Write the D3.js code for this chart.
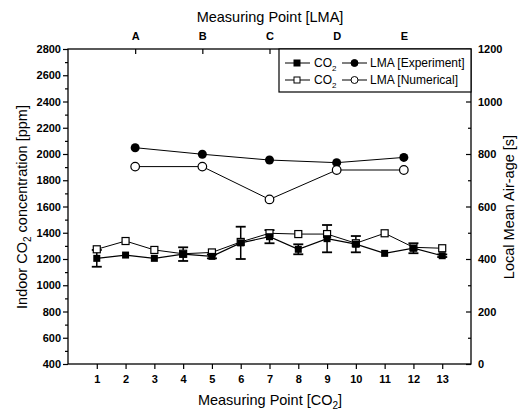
<!DOCTYPE html>
<html><head><meta charset="utf-8">
<script src="https://cdn.jsdelivr.net/npm/d3@7"></script>
<style>body{margin:0;background:#fff}svg{display:block}text{font-family:"Liberation Sans",Arial,sans-serif;fill:#000}</style>
</head><body>
<svg id="c" width="525" height="415"></svg>
<script>
// ---- data ----
const co2Points = [1,2,3,4,5,6,7,8,9,10,11,12,13];
const co2Exp    = [1205,1230,1205,1237,1220,1323,1370,1274,1355,1313,1243,1282,1225];
const co2ExpErr = [64,0,0,52,15,123,50,38,104,62,0,38,10];
const co2Num    = [1274,1337,1269,1240,1250,1330,1396,1390,1390,1320,1396,1289,1282];
const lmaPoints = ["A","B","C","D","E"];
const lmaExp    = [824,799,777,767,787];
const lmaNum    = [752,752,627,739,739];
const leftTicks  = [400,600,800,1000,1200,1400,1600,1800,2000,2200,2400,2600,2800];
const rightTicks = [0,200,400,600,800,1000,1200];

// ---- layout ----
const L=68,R=471,T=49,B=364;
const svg=d3.select("#c");
const x=d3.scaleLinear().domain([0,14]).range([L,R]);
const xTop=d3.scaleLinear().domain([0,6]).range([L,R]);
const yL=d3.scaleLinear().domain([400,2800]).range([B,T]);
const yR=d3.scaleLinear().domain([0,1200]).range([B,T]);

// frame
svg.append("rect").attr("x",L).attr("y",T).attr("width",R-L).attr("height",B-T)
  .attr("fill","none").attr("stroke","#000").attr("stroke-width",1.3);

// left axis
const gl=svg.append("g").attr("transform",`translate(${L},0)`);
gl.call(d3.axisLeft(yL).tickValues(d3.range(500,2800,200)).tickSize(3).tickFormat(""));
gl.call(g=>g.select(".domain").remove());
const gl2=svg.append("g").attr("transform",`translate(${L},0)`);
gl2.call(d3.axisLeft(yL).tickValues(leftTicks).tickSize(5).tickPadding(2).tickFormat(d3.format("d")));
gl2.select(".domain").remove();
svg.selectAll("g").selectAll(".tick line").attr("stroke-width",1.2);
gl2.selectAll("text").attr("font-size",11).attr("font-weight","bold");

// right axis (ticks inward)
const gr=svg.append("g").attr("transform",`translate(${R},0)`);
gr.call(d3.axisLeft(yR).tickValues(d3.range(100,1200,200)).tickSize(3).tickFormat(""));
gr.select(".domain").remove();
const gr2=svg.append("g").attr("transform",`translate(${R},0)`);
gr2.call(d3.axisLeft(yR).tickValues(rightTicks).tickSize(5).tickFormat(""));
gr2.select(".domain").remove();
gr2.selectAll(".tick").append("text").attr("x",7).attr("dy","0.32em")
  .attr("text-anchor","start").attr("font-size",11).attr("font-weight","bold").text(d=>d);

// bottom axis
const gb=svg.append("g").attr("transform",`translate(0,${B})`);
gb.call(d3.axisBottom(x).tickValues(co2Points).tickSize(5).tickPadding(6).tickFormat(d3.format("d")));
gb.select(".domain").remove();
gb.selectAll("text").attr("font-size",11).attr("font-weight","bold");

// top axis (ticks inward)
const gt=svg.append("g").attr("transform",`translate(0,${T})`);
gt.call(d3.axisBottom(xTop).tickValues([1,2,3,4,5]).tickSize(5).tickFormat(""));
gt.select(".domain").remove();
gt.selectAll(".tick").append("text").attr("y",-9).attr("text-anchor","middle")
  .attr("font-size",11).attr("font-weight","bold").text((d,i)=>lmaPoints[i]);
svg.selectAll(".tick line").attr("stroke","#000").attr("stroke-width",1.2);

// titles
svg.append("text").attr("x",270).attr("y",22).attr("text-anchor","middle").attr("font-size",14.5).text("Measuring Point [LMA]");
const bt=svg.append("text").attr("x",270).attr("y",405).attr("text-anchor","middle").attr("font-size",14.5);
bt.append("tspan").text("Measuring Point [CO");
bt.append("tspan").attr("font-size",10).attr("dy",4).text("2");
bt.append("tspan").attr("dy",-4).text("]");
const lt=svg.append("text").attr("transform","translate(27,207) rotate(-90)").attr("text-anchor","middle").attr("font-size",14.5);
lt.append("tspan").text("Indoor CO");
lt.append("tspan").attr("font-size",10).attr("dy",4).text("2");
lt.append("tspan").attr("dy",-4).text(" concentration [ppm]");
svg.append("text").attr("transform","translate(514,207) rotate(-90)").attr("text-anchor","middle").attr("font-size",14.5).text("Local Mean Air-age [s]");

// ---- series ----
const line=(xs,ys,yscale,xscale)=>d3.line().x((d,i)=>xscale(xs[i])).y((d,i)=>yscale(ys[i]))(ys);
const lmaX=[1,2,3,4,5];
const pl=svg.append("g");
pl.append("path").attr("d",line(lmaX,lmaExp,yR,xTop)).attr("fill","none").attr("stroke","#000").attr("stroke-width",1);
pl.append("path").attr("d",line(lmaX,lmaNum,yR,xTop)).attr("fill","none").attr("stroke","#000").attr("stroke-width",1);
pl.append("path").attr("d",line(co2Points,co2Num,yL,x)).attr("fill","none").attr("stroke","#000").attr("stroke-width",1);
pl.append("path").attr("d",line(co2Points,co2Exp,yL,x)).attr("fill","none").attr("stroke","#000").attr("stroke-width",1.2);

// error bars
co2Points.forEach((p,i)=>{
  const e=co2ExpErr[i]; if(!e) return;
  const cx=x(p), y1=yL(co2Exp[i]-e), y2=yL(co2Exp[i]+e);
  pl.append("line").attr("x1",cx).attr("x2",cx).attr("y1",y1).attr("y2",y2).attr("stroke","#000").attr("stroke-width",1.5);
  [y1,y2].forEach(yy=>pl.append("line").attr("x1",cx-5).attr("x2",cx+5).attr("y1",yy).attr("y2",yy).attr("stroke","#000").attr("stroke-width",1.8));
});

// markers
pl.selectAll(".sqo").data(co2Points).join("rect").attr("x",d=>x(d)-3.5).attr("y",(d,i)=>yL(co2Num[i])-3.5)
  .attr("width",7).attr("height",7).attr("fill","#fff").attr("stroke","#000").attr("stroke-width",1.2);
pl.selectAll(".sqf").data(co2Points).join("rect").attr("x",d=>x(d)-3.5).attr("y",(d,i)=>yL(co2Exp[i])-3.5)
  .attr("width",7).attr("height",7).attr("fill","#000");
pl.selectAll(".cf").data(lmaX).join("circle").attr("cx",d=>xTop(d)).attr("cy",(d,i)=>yR(lmaExp[i])).attr("r",4.5).attr("fill","#000");
pl.selectAll(".co").data(lmaX).join("circle").attr("cx",d=>xTop(d)).attr("cy",(d,i)=>yR(lmaNum[i])).attr("r",4.3).attr("fill","#fff").attr("stroke","#000").attr("stroke-width",1.2);

// ---- legend ----
const lg=svg.append("g");
lg.append("rect").attr("x",279).attr("y",T).attr("width",R-279).attr("height",43).attr("fill","#fff").attr("stroke","#000").attr("stroke-width",1.2);
const rows=[{y:63,fill:"#000",name:"LMA [Experiment]"},{y:80,fill:"#fff",name:"LMA [Numerical]"}];
rows.forEach(r=>{
  lg.append("line").attr("x1",285).attr("x2",310).attr("y1",r.y).attr("y2",r.y).attr("stroke","#000");
  lg.append("rect").attr("x",294).attr("y",r.y-3).attr("width",6).attr("height",6).attr("fill",r.fill).attr("stroke","#000");
  const t=lg.append("text").attr("x",314).attr("y",r.y+4).attr("font-size",12);
  t.append("tspan").text("CO"); t.append("tspan").attr("font-size",8).attr("dy",4).text("2");
  lg.append("line").attr("x1",342).attr("x2",367).attr("y1",r.y).attr("y2",r.y).attr("stroke","#000");
  lg.append("circle").attr("cx",354.5).attr("cy",r.y).attr("r",3.5).attr("fill",r.fill).attr("stroke","#000");
  lg.append("text").attr("x",370).attr("y",r.y+4).attr("font-size",12).text(r.name);
});
</script>
</body></html>
